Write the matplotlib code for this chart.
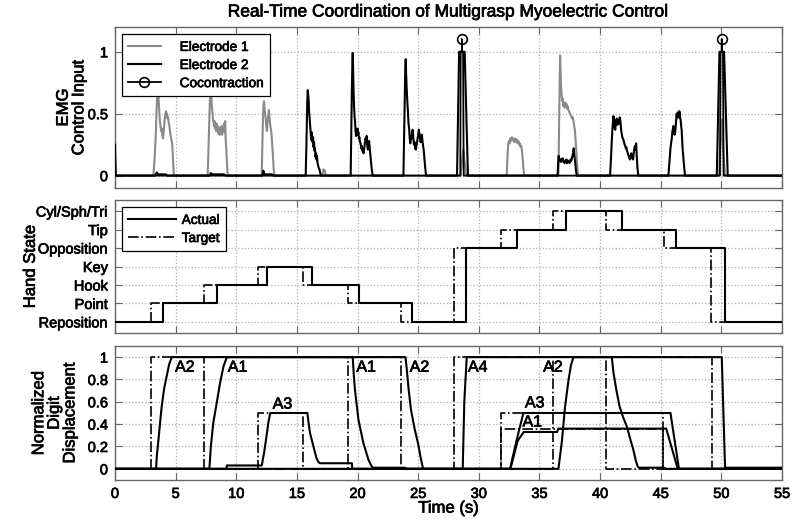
import numpy as np
import matplotlib
matplotlib.use("Agg")
import matplotlib.pyplot as plt
import matplotlib.patheffects as pe
from matplotlib.legend_handler import HandlerLine2D

plt.rcParams['font.family'] = ['Liberation Sans', 'DejaVu Sans']
plt.rcParams['font.size'] = 11

# ---------------- EMG data ----------------
emg1_t = [0, 3.16, 3.25, 3.35, 3.42, 3.48, 3.53, 3.57, 3.61, 3.66, 3.7, 3.75, 3.8, 3.85, 3.9, 3.95, 4.0, 4.05,
          4.1, 4.15, 4.2, 4.24, 4.28, 4.33, 4.38, 4.43, 4.48, 4.53, 4.58, 4.63, 4.68, 4.72, 4.77, 4.82, 4.86,
          7.64, 7.7, 7.76, 7.82, 7.88, 7.92, 7.96, 8.0, 8.04, 8.08, 8.12, 8.16, 8.2, 8.24, 8.28, 8.33, 8.38, 8.43,
          8.48, 8.53, 8.58, 8.63, 8.68, 8.73, 8.78, 8.83, 8.88, 8.93, 8.98, 9.03, 9.08, 9.12, 9.18, 9.24, 9.29,
          12.09, 12.15, 12.2, 12.25, 12.29, 12.33, 12.37, 12.41, 12.45, 12.49, 12.53, 12.57, 12.61, 12.65, 12.69,
          12.73, 12.77, 12.81, 12.85, 12.89, 12.93, 12.98, 13.03, 13.08, 13.14,
          17.1, 17.18, 17.3, 17.37,
          28.5, 28.62, 28.72, 28.8, 28.9, 28.95,
          32.3, 32.36, 32.42, 32.48, 32.54, 32.6, 32.66, 32.72, 32.78, 32.84, 32.9, 32.96, 33.02, 33.08, 33.14,
          33.2, 33.26, 33.32, 33.38, 33.44, 33.5, 33.56, 33.62, 33.68, 33.74,
          36.56, 36.62, 36.67, 36.7, 36.74, 36.78, 36.83, 36.88, 36.93, 36.97, 37.02, 37.07, 37.12, 37.17, 37.22,
          37.27, 37.32, 37.38, 37.44, 37.5, 37.56, 37.62, 37.68, 37.74, 37.8, 37.86, 37.93, 38.0, 38.07, 38.12, 38.18,
          49.8, 49.95, 50.02, 50.08, 50.18, 50.3, 55]
emg1_v = [0, 0, 0.12, 0.3, 0.52, 0.66, 0.74, 0.68, 0.58, 0.5, 0.44, 0.4, 0.36, 0.38, 0.33, 0.3, 0.34, 0.4,
          0.46, 0.5, 0.52, 0.48, 0.5, 0.46, 0.47, 0.42, 0.4, 0.36, 0.32, 0.3, 0.27, 0.25, 0.14, 0.05, 0,
          0, 0.2, 0.42, 0.6, 0.73, 0.7, 0.6, 0.54, 0.5, 0.45, 0.43, 0.4, 0.44, 0.38, 0.41, 0.36, 0.42, 0.37,
          0.4, 0.34, 0.38, 0.33, 0.39, 0.35, 0.4, 0.33, 0.38, 0.36, 0.42, 0.35, 0.44, 0.3, 0.2, 0.08, 0,
          0, 0.25, 0.47, 0.58, 0.6, 0.55, 0.5, 0.47, 0.42, 0.38, 0.36, 0.42, 0.47, 0.5, 0.53,
          0.48, 0.44, 0.4, 0.37, 0.35, 0.3, 0.22, 0.14, 0.06, 0,
          0, 0.05, 0.04, 0,
          0, 0.12, 0.21, 0.14, 0.05, 0,
          0, 0.15, 0.26, 0.28, 0.26, 0.3, 0.28, 0.31, 0.29, 0.3, 0.27, 0.29, 0.3, 0.27, 0.29,
          0.26, 0.28, 0.25, 0.26, 0.23, 0.24, 0.2, 0.12, 0.05, 0,
          0, 0.45, 0.8, 0.97, 0.85, 0.72, 0.64, 0.6, 0.62, 0.56, 0.58, 0.55, 0.59, 0.56, 0.58,
          0.54, 0.56, 0.53, 0.52, 0.5, 0.49, 0.48, 0.46, 0.47, 0.44, 0.4, 0.36, 0.25, 0.14, 0.06, 0,
          0, 0.3, 0.45, 0.35, 0.15, 0, 0]

emg2_t = [0, 0.03, 0.07,
          3.3, 3.45, 3.55, 4.2, 4.3,
          7.8, 7.9, 8.0, 9.0, 9.1,
          12.15, 12.23, 12.3, 12.95, 13.05,
          15.72, 15.77, 15.81, 15.85, 15.89, 15.93, 15.97, 16.01, 16.05, 16.09, 16.13, 16.17, 16.21, 16.25,
          16.29, 16.33, 16.37, 16.41, 16.45, 16.49, 16.53, 16.57, 16.61, 16.65, 16.7, 16.75, 16.8, 16.86,
          16.92, 16.99,
          19.43, 19.48, 19.53, 19.57, 19.6, 19.63, 19.67, 19.71, 19.75, 19.79, 19.83, 19.87, 19.91, 19.95,
          19.99, 20.03, 20.07, 20.11, 20.15, 20.2, 20.25, 20.3, 20.35, 20.4, 20.45, 20.5, 20.55, 20.6, 20.65,
          20.7, 20.75, 20.8, 20.85, 20.9, 20.95, 21.0, 21.05, 21.1, 21.17, 21.25,
          23.78, 23.83, 23.88, 23.93, 23.97, 24.01, 24.05, 24.1, 24.15, 24.2, 24.25, 24.3, 24.35, 24.4, 24.45,
          24.5, 24.55, 24.6, 24.65, 24.7, 24.75, 24.8, 24.85, 24.9, 24.95, 25.0, 25.05, 25.1, 25.15, 25.2,
          25.25, 25.3, 25.35, 25.4, 25.45, 25.5, 25.57, 25.65,
          28.2, 28.37, 28.83, 29.1,
          36.49, 36.54, 36.58, 36.62, 36.67, 36.72, 36.77, 36.82, 36.87, 36.92, 36.97, 37.02, 37.07, 37.12,
          37.17, 37.22, 37.27, 37.32, 37.37, 37.42, 37.47, 37.52, 37.57, 37.62, 37.67, 37.72, 37.77, 37.82,
          37.87, 37.93, 38.0, 38.07,
          40.82, 40.9, 40.97, 41.03, 41.1, 41.15, 41.2, 41.25, 41.3, 41.37, 41.42, 41.47, 41.51, 41.56, 41.61,
          41.65, 41.7, 41.74, 41.78, 41.83, 41.88, 41.92, 41.97, 42.02, 42.07, 42.12, 42.16, 42.21, 42.26,
          42.31, 42.36, 42.41, 42.47, 42.52, 42.57, 42.62, 42.67, 42.72, 42.77, 42.82, 42.87, 42.92, 42.97,
          43.02, 43.08, 43.15,
          45.63, 45.72, 45.8, 45.86, 45.9, 45.95, 46.0, 46.04, 46.09, 46.14, 46.18, 46.23, 46.27, 46.31, 46.36,
          46.41, 46.45, 46.49, 46.53, 46.57, 46.61, 46.64, 46.68, 46.72, 46.8, 46.9, 47.0,
          49.62, 49.84, 50.22, 50.52, 55]
emg2_v = [0.25, 0.12, 0,
          0, 0.025, 0.01, 0.01, 0,
          0, 0.02, 0.01, 0.01, 0,
          0, 0.04, 0.01, 0.01, 0,
          0, 0.2, 0.42, 0.6, 0.69, 0.65, 0.6, 0.5, 0.46, 0.4, 0.33, 0.29, 0.35, 0.3,
          0.27, 0.31, 0.23, 0.27, 0.2, 0.22, 0.15, 0.18, 0.13, 0.16, 0.1, 0.08, 0.06, 0.05,
          0.02, 0,
          0, 0.35, 0.7, 0.9, 0.99, 0.85, 0.68, 0.56, 0.48, 0.44, 0.36, 0.32, 0.37, 0.34,
          0.38, 0.33, 0.35, 0.3, 0.31, 0.27, 0.26, 0.22, 0.24, 0.2, 0.19, 0.18, 0.22, 0.26, 0.3,
          0.28, 0.32, 0.24, 0.21, 0.27, 0.28, 0.22, 0.17, 0.12, 0.05, 0,
          0, 0.3, 0.62, 0.85, 0.94, 0.8, 0.7, 0.6, 0.52, 0.42, 0.38, 0.3, 0.26, 0.32, 0.3,
          0.36, 0.37, 0.3, 0.25, 0.27, 0.22, 0.21, 0.24, 0.27, 0.3, 0.33, 0.37, 0.34, 0.3, 0.27,
          0.3, 0.33, 0.28, 0.24, 0.21, 0.15, 0.07, 0,
          0, 1.0, 1.0, 0,
          0, 0.1, 0.16, 0.14, 0.12, 0.13, 0.11, 0.13, 0.12, 0.14, 0.11, 0.12, 0.1, 0.12,
          0.11, 0.13, 0.1, 0.12, 0.11, 0.12, 0.1, 0.11, 0.13, 0.12, 0.14, 0.16, 0.18, 0.22,
          0.16, 0.12, 0.05, 0,
          0, 0.15, 0.3, 0.4, 0.48, 0.42, 0.38, 0.37, 0.44, 0.46, 0.41, 0.45, 0.44, 0.42, 0.47,
          0.46, 0.4, 0.36, 0.34, 0.31, 0.3, 0.29, 0.27, 0.25, 0.24, 0.22, 0.23, 0.2, 0.19,
          0.17, 0.16, 0.14, 0.13, 0.16, 0.18, 0.15, 0.14, 0.13, 0.18, 0.22, 0.24, 0.21, 0.26,
          0.16, 0.06, 0,
          0, 0.12, 0.22, 0.27, 0.29, 0.35, 0.38, 0.4, 0.36, 0.33, 0.34, 0.4, 0.45, 0.5, 0.47,
          0.51, 0.49, 0.47, 0.52, 0.5, 0.46, 0.45, 0.4, 0.37, 0.22, 0.1, 0,
          0, 1.0, 1.0, 0, 0]

cocon_t = [0, 28.47, 28.5, 28.6, 28.6, 28.6, 28.7, 28.75, 49.88, 49.93, 50.03, 50.03, 50.03, 50.13, 50.18, 55]
cocon_v = [0, 0, 1.0, 1.0, 1.1, 1.0, 1.0, 0, 0, 1.0, 1.0, 1.1, 1.0, 1.0, 0, 0]
cocon_marks = [4, 11]

# ---------------- Hand state ----------------
state_names = ['Reposition', 'Point', 'Hook', 'Key', 'Opposition', 'Tip', 'Cyl/Sph/Tri']
actual_t = [0, 3.93, 8.38, 12.51, 16.27, 20.15, 24.52, 28.94, 33.12, 37.16, 41.78, 46.26, 50.3, 55]
actual_s = [0, 1, 2, 3, 2, 1, 0, 4, 5, 6, 5, 4, 0, 0]
target_t = [0, 2.97, 7.34, 11.77, 15.48, 19.19, 23.56, 27.98, 31.8, 36.14, 40.48, 45.3, 49.15, 55]
target_s = [0, 1, 2, 3, 2, 1, 0, 4, 5, 6, 5, 4, 0, 0]

# ---------------- Digit displacement ----------------
a1_t = [0, 7.78, 7.9, 8.1, 8.4, 8.66, 8.95, 9.22, 19.6, 19.68, 19.79, 20.07, 20.48, 20.9, 21.17, 21.3, 23.9, 24.0,
        32.6, 33.2, 33.7, 36.45, 36.55, 45.45, 46.4, 55]
a1_v = [0, 0, 0.2, 0.41, 0.6, 0.77, 0.92, 1.0, 1.0, 0.85, 0.7, 0.44, 0.23, 0.08, 0.02, 0.01, 0.01, 0,
        0, 0.25, 0.33, 0.33, 0.36, 0.36, 0, 0]
a2_t = [0, 3.38, 3.45, 3.58, 3.72, 3.85, 4.05, 4.26, 4.45, 4.67, 23.95, 24.05, 24.2, 24.4, 24.7, 25.0, 25.2, 25.4,
        36.56, 36.7, 36.85, 37.1, 37.4, 37.6, 37.8, 40.96, 41.1, 41.35, 41.6, 41.9, 42.2, 42.5, 42.74, 42.95,
        43.1, 43.2, 45.3, 45.4, 55]
a2_v = [0, 0, 0.12, 0.26, 0.42, 0.56, 0.72, 0.83, 0.93, 1.0, 1.0, 0.9, 0.72, 0.53, 0.36, 0.22, 0.1, 0,
        0, 0.12, 0.25, 0.55, 0.8, 0.93, 1.0, 1.0, 0.86, 0.7, 0.56, 0.46, 0.38, 0.26, 0.17, 0.07,
        0.02, 0.01, 0.01, 0, 0]
a3_t = [0, 9.2, 9.22, 12.1, 12.3, 12.5, 12.65, 12.8, 15.86, 15.95, 16.08, 16.36, 16.6, 16.77, 16.9, 19.53, 19.56,
        32.57, 33.1, 33.67, 45.8, 46.5, 55]
a3_v = [0, 0, 0.03, 0.03, 0.15, 0.3, 0.42, 0.5, 0.5, 0.42, 0.32, 0.2, 0.1, 0.06, 0.05, 0.05, 0,
        0, 0.25, 0.5, 0.5, 0, 0]
a4_t = [0, 28.67, 28.8, 29.0, 50.03, 50.3, 55]
a4_v = [0, 0, 0.6, 1.0, 1.0, 0.01, 0.01]

ta1_t = [0, 7.34, 19.19, 31.8, 45.2, 55]
ta1_v = [0, 1, 0, 0.36, 0, 0]
ta2_t = [0, 2.97, 23.56, 36.09, 40.49, 55]
ta2_v = [0, 1, 0, 1, 0, 0]
ta3_t = [0, 11.77, 15.48, 31.8, 45.2, 55]
ta3_v = [0, 0.5, 0, 0.5, 0, 0]
ta4_t = [0, 27.98, 49.2, 55]
ta4_v = [0, 1, 0, 0]

label_text = ['A2', 'A1', 'A3', 'A1', 'A2', 'A4', 'A2', 'A3', 'A1']
label_t = [4.95, 9.3, 13.0, 19.9, 24.3, 29.1, 35.3, 33.8, 33.6]
label_v = [0.91, 0.91, 0.58, 0.91, 0.91, 0.91, 0.91, 0.59, 0.42]

xticks = list(range(0, 56, 5))

# ---------------- Figure ----------------
fig = plt.figure(figsize=(7.95, 5.27), dpi=100)
L, W = 0.1447, 0.839
ax1 = fig.add_axes([L, 0.6433, W, 0.3055])
ax2 = fig.add_axes([L, 0.3681, W, 0.2524])
ax3 = fig.add_axes([L, 0.0892, W, 0.2543])

frame_col = '#666666'
for ax in (ax1, ax2, ax3):
    ax.set_xlim(0, 55)
    ax.set_xticks(xticks)
    ax.grid(True, linestyle=':', color='#b0b0b0', linewidth=0.9)
    ax.tick_params(direction='in', length=5, top=True, right=True, color=frame_col,
                   labelsize=10.5, pad=5)
    for s in ax.spines.values():
        s.set_color(frame_col)
        s.set_linewidth(1.0)
    ax.set_axisbelow(True)

# Top: EMG
ax1.plot(emg1_t, emg1_v, color='#8a8a8a', lw=1.5, label='Electrode 1', zorder=3)
ax1.plot(emg2_t, emg2_v, color='black', lw=1.5, label='Electrode 2', zorder=4)
ax1.plot(cocon_t, cocon_v, color='black', lw=1.3, marker='o', markevery=cocon_marks, markersize=7,
         mfc='none', mec='black', mew=1.2, label='Cocontraction', zorder=5)
ax1.set_ylim(-0.1, 1.2)
ax1.set_yticks([0, 0.5, 1])
ax1.set_yticklabels(['0', '0.5', '1'])
ax1.tick_params(labelbottom=False)
ax1.set_ylabel('EMG\nControl Input', fontsize=12, va='center', linespacing=1.05)
ax1.yaxis.set_label_coords(-0.066, 0.5)


class EndMarkerHandler(HandlerLine2D):
    def get_xdata(self, legend, xdescent, ydescent, width, height, fontsize):
        xdata = np.array([-xdescent, -xdescent + width])
        return xdata, np.array([-xdescent + width])


h = ax1.get_legend_handles_labels()
leg1 = ax1.legend(*h, loc='upper left', fontsize=9.8, frameon=True, fancybox=False,
                  edgecolor='black', framealpha=1, handlelength=2.4, handletextpad=1.4,
                  labelspacing=0.3, borderpad=0.45, borderaxespad=0.5,
                  handler_map={h[0][2]: EndMarkerHandler(numpoints=1)})
leg1.get_frame().set_linewidth(0.9)

# Middle: hand state
ax2.plot(actual_t, actual_s, color='black', lw=1.5, drawstyle='steps-post', label='Actual', zorder=4)
ax2.plot(target_t, target_s, color='black', lw=1.2, linestyle='-.', drawstyle='steps-post',
         label='Target', zorder=3)
ax2.set_ylim(-0.6, 6.6)
ax2.set_yticks(range(7))
ax2.set_yticklabels(state_names)
ax2.tick_params(labelbottom=False)
ax2.set_ylabel('Hand State', fontsize=12, va='center')
ax2.yaxis.set_label_coords(-0.127, 0.5)
leg2 = ax2.legend(loc='upper left', fontsize=9.8, frameon=True, fancybox=False, edgecolor='black',
                  framealpha=1, handlelength=3.5, handletextpad=0.45, labelspacing=0.3,
                  borderpad=0.45, borderaxespad=0.5)
leg2.get_frame().set_linewidth(0.9)

# Bottom: digit displacement
for tt, vv in ((ta1_t, ta1_v), (ta2_t, ta2_v), (ta3_t, ta3_v), (ta4_t, ta4_v)):
    ax3.plot(tt, vv, color='black', lw=1.2, linestyle='-.', drawstyle='steps-post', zorder=3)
for tt, vv in ((a1_t, a1_v), (a2_t, a2_v), (a3_t, a3_v), (a4_t, a4_v)):
    ax3.plot(tt, vv, color='black', lw=1.5, zorder=4)
for s, tt, vv in zip(label_text, label_t, label_v):
    ax3.text(tt, vv, s, fontsize=11.5, ha='left', va='center', zorder=6)
ax3.set_ylim(-0.1, 1.1)
ax3.set_yticks([0, 0.2, 0.4, 0.6, 0.8, 1.0])
ax3.set_yticklabels(['0', '0.2', '0.4', '0.6', '0.8', '1'])
ax3.set_xticklabels([str(x) for x in xticks])
ax3.set_ylabel('Normalized\nDigit\nDisplacement', fontsize=12, va='center', linespacing=1.05)
ax3.yaxis.set_label_coords(-0.091, 0.5)
ax3.set_xlabel('Time (s)', fontsize=12, va='center')
ax3.xaxis.set_label_coords(0.5, -0.21)

fig.text(448.5 / 795, 1 - 12 / 527, 'Real-Time Coordination of Multigrasp Myoelectric Control',
         ha='center', va='center', fontsize=12.5)

# slightly heavier text, like the reference rendering
for t in fig.findobj(matplotlib.text.Text):
    t.set_path_effects([pe.withStroke(linewidth=0.5, foreground='black')])

fig.savefig('out.png', dpi=100)
